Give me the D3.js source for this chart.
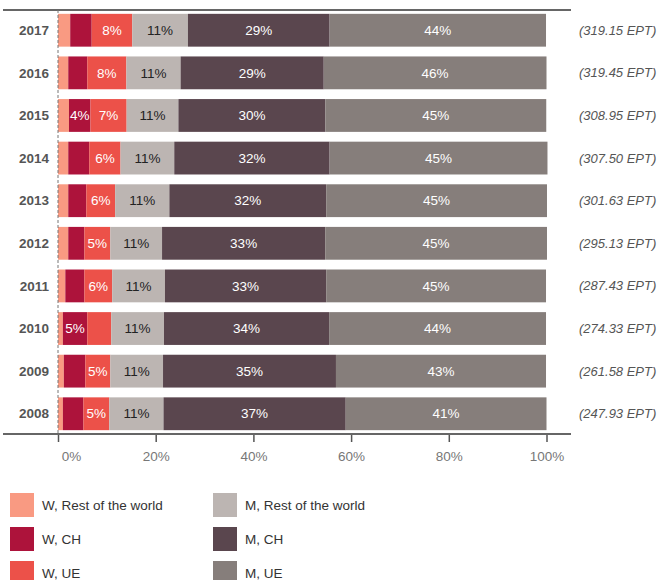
<!DOCTYPE html>
<html>
<head>
<meta charset="utf-8">
<script src="https://cdn.jsdelivr.net/npm/d3@7"></script>
<style>
  body { margin: 0; background: #fff; }
  svg { display: block; font-family: "Liberation Sans", Arial, sans-serif; }
</style>
</head>
<body>
<div id="chart"></div>
<script>
// values in % per year
var years = ['2017', '2016', '2015', '2014', '2013', '2012', '2011', '2010', '2009', '2008'];
var wRest = [2.5, 2.1, 2.25, 2.1, 2.1, 2.1, 1.5, 1.0, 1.2, 1.0];
var wCH   = [4.4, 3.9, 4.4, 4.3, 3.7, 3.3, 3.9, 5.0, 4.4, 4.2];
var wUE   = [8.3, 8.0, 7.4, 6.4, 5.9, 5.3, 5.7, 4.9, 5.1, 5.3];
var mRest = [11.4, 11.1, 10.6, 11.0, 11.1, 10.6, 10.8, 10.8, 10.8, 11.1];
var mCH   = [29.0, 29.3, 30.1, 31.8, 32.1, 33.4, 33.0, 33.8, 35.4, 37.3];
var mUE   = [44.3, 45.6, 45.2, 44.6, 45.2, 45.4, 45.0, 44.4, 43.0, 41.1];
var totals = ['(319.15 EPT)', '(319.45 EPT)', '(308.95 EPT)', '(307.50 EPT)', '(301.63 EPT)',
              '(295.13 EPT)', '(287.43 EPT)', '(274.33 EPT)', '(261.58 EPT)', '(247.93 EPT)'];
var ticks = [0, 20, 40, 60, 80, 100];

var keys = ['W, Rest of the world', 'W, CH', 'W, UE', 'M, Rest of the world', 'M, CH', 'M, UE'];
var colors = ['#f99a82', '#ad133b', '#ec5149', '#bcb5b2', '#5a464e', '#867e7b'];
var series = [wRest, wCH, wUE, mRest, mCH, mUE];
// labels the original draws / leaves out where the segment is tight
var extraLabels = ['2015|W, CH'];
var hiddenLabels = ['2010|W, UE'];

var rows = years.map(function(y, i) {
  var r = { year: y, total: totals[i] };
  keys.forEach(function(k, j) { r[k] = series[j][i]; });
  return r;
});

var svg = d3.select('#chart').append('svg')
    .attr('width', 659)
    .attr('height', 580);

var x = d3.scaleLinear().domain([0, 100]).range([58, 546.5]);
var y = d3.scaleBand().domain(years).range([10, 434]).paddingInner(0.23).paddingOuter(0.09);
var color = d3.scaleOrdinal().domain(keys).range(colors);

var stacked = d3.stack().keys(keys)(rows);

var layer = svg.selectAll('g.layer')
    .data(stacked)
    .enter().append('g')
    .attr('class', 'layer')
    .attr('fill', function(d) { return color(d.key); });

layer.selectAll('rect')
    .data(function(d) { return d; })
    .enter().append('rect')
    .attr('x', function(d) { return x(d[0]); })
    .attr('y', function(d) { return y(d.data.year); })
    .attr('width', function(d) { return x(d[1]) - x(d[0]); })
    .attr('height', y.bandwidth());

// segment labels
stacked.forEach(function(s) {
  var pieces = s.filter(function(d) {
    var id = d.data.year + '|' + s.key;
    if (hiddenLabels.indexOf(id) >= 0) return false;
    if (extraLabels.indexOf(id) >= 0) return true;
    return Math.round(d[1] - d[0]) >= 5;
  });
  svg.append('g').selectAll('text')
      .data(pieces)
      .enter().append('text')
      .attr('x', function(d) { return (x(d[0]) + x(d[1])) / 2; })
      .attr('y', function(d) { return y(d.data.year) + y.bandwidth() / 2; })
      .attr('dy', '0.35em')
      .attr('text-anchor', 'middle')
      .attr('font-size', 13.5)
      .attr('fill', s.key == 'M, Rest of the world' ? '#222' : '#fff')
      .text(function(d) { return Math.round(d[1] - d[0]) + '%'; });
});

// years on the left
svg.append('g').selectAll('text')
    .data(rows)
    .enter().append('text')
    .attr('x', 49)
    .attr('y', function(d) { return y(d.year) + y.bandwidth() / 2; })
    .attr('dy', '0.35em')
    .attr('text-anchor', 'end')
    .attr('font-size', 13.5)
    .attr('font-weight', 'bold')
    .attr('fill', '#555')
    .text(function(d) { return d.year; });

// totals on the right
svg.append('g').selectAll('text')
    .data(rows)
    .enter().append('text')
    .attr('x', 579)
    .attr('y', function(d) { return y(d.year) + y.bandwidth() / 2; })
    .attr('dy', '0.35em')
    .attr('font-size', 13)
    .attr('font-style', 'italic')
    .attr('fill', '#555')
    .text(function(d) { return d.total; });

// frame lines
svg.append('line').attr('x1', 3).attr('x2', 571).attr('y1', 10).attr('y2', 10)
    .attr('stroke', '#666').attr('stroke-width', 2);
svg.append('line').attr('x1', x(0)).attr('x2', x(0)).attr('y1', 10).attr('y2', 434)
    .attr('stroke', '#777').attr('stroke-dasharray', '3,2');

var axis = svg.append('g')
    .attr('transform', 'translate(0,434)')
    .call(d3.axisBottom(x).tickValues(ticks).tickSize(8).tickPadding(9)
      .tickFormat(function(d) { return d + '%'; }));
axis.select('.domain').remove();
axis.selectAll('.tick line').attr('stroke', '#555').attr('stroke-width', 1.5);
axis.selectAll('.tick text')
    .attr('fill', '#777')
    .attr('font-size', 13.5)
    .attr('font-family', '"Liberation Sans", Arial, sans-serif');
axis.selectAll('.tick text').filter(function(d) { return d === 0; }).attr('dx', 13);
svg.append('line').attr('x1', 3).attr('x2', 571).attr('y1', 434).attr('y2', 434)
    .attr('stroke', '#666').attr('stroke-width', 2);

// legend, two columns
var legend = svg.append('g').selectAll('g')
    .data(keys)
    .enter().append('g')
    .attr('transform', function(d, i) {
      return 'translate(' + (i < 3 ? 10 : 213) + ',' + (493 + (i % 3) * 34) + ')';
    });
legend.append('rect')
    .attr('width', 24)
    .attr('height', 24)
    .attr('fill', function(d) { return color(d); });
legend.append('text')
    .attr('x', 32)
    .attr('y', 12)
    .attr('dy', '0.35em')
    .attr('font-size', 13.5)
    .attr('fill', '#333')
    .text(function(d) { return d; });
</script>
</body>
</html>
